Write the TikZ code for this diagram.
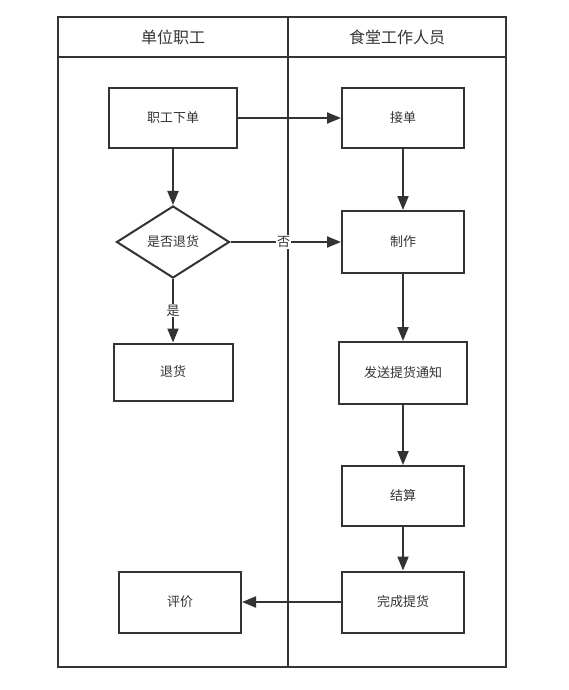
\documentclass[tikz,border=0pt]{standalone}
\usepackage{fontspec}
\setmainfont{Noto Sans CJK SC}
\usepackage{tikz}
\usetikzlibrary{shapes.geometric,arrows.meta}

\definecolor{linegray}{HTML}{333333}

\begin{document}
\begin{tikzpicture}[x=1pt, y=-1pt,
        every node/.style={font=\fontsize{13}{15}\selectfont, text=linegray},
        box/.style={draw=linegray, line width=2pt, rectangle, inner sep=0pt},
        check/.style={draw=linegray, line width=2pt, diamond, inner sep=0pt,
            minimum width=113pt, minimum height=72pt},
        flow/.style={-{Triangle[length=14pt, width=11pt]}, draw=linegray, line width=2pt},
        lane/.style={draw=linegray, line width=2pt},
        tag/.style={fill=white, inner sep=1pt}]
        \useasboundingbox (0, 0) rectangle (568, 690);

        % swimlanes
        \draw[lane] (58, 17) rectangle (506, 667);
        \draw[lane] (58, 57) -- (506, 57);
        \draw[lane] (288, 17) -- (288, 667);
        \node[font=\fontsize{16}{18}\selectfont] (laneA) at (173, 37) {单位职工};
        \node[font=\fontsize{16}{18}\selectfont] (laneB) at (397, 37) {食堂工作人员};

        % left lane
        \node[box, minimum width=128pt, minimum height=59pt] (order) at (173, 118) {职工下单};
        \node[check] (ask) at (173, 242) {是否退货};
        \node[box, minimum width=119pt, minimum height=57pt] (refund) at (173, 372) {退货};
        \node[box, minimum width=122pt, minimum height=61pt] (rate) at (180, 602) {评价};

        % right lane
        \node[box, minimum width=122pt, minimum height=59pt] (take) at (403, 118) {接单};
        \node[box, minimum width=122pt, minimum height=62pt] (cook) at (403, 242) {制作};
        \node[box, minimum width=128pt, minimum height=62pt] (notify) at (403, 373) {发送提货通知};
        \node[box, minimum width=122pt, minimum height=60pt] (pay) at (403, 496) {结算};
        \node[box, minimum width=122pt, minimum height=61pt] (done) at (403, 602) {完成提货};

        % connectors
        \draw[flow] (order) -- (take);
        \draw[flow] (order) -- (ask);
        \draw[flow] (ask) -- (cook) node[pos=0.48, tag] {否};
        \draw[flow] (ask) -- (refund) node[midway, tag] {是};
        \draw[flow] (take) -- (cook);
        \draw[flow] (cook) -- (notify);
        \draw[flow] (notify) -- (pay);
        \draw[flow] (pay) -- (done);
        \draw[flow] (done) -- (rate);

    \end{tikzpicture}
\end{document}
